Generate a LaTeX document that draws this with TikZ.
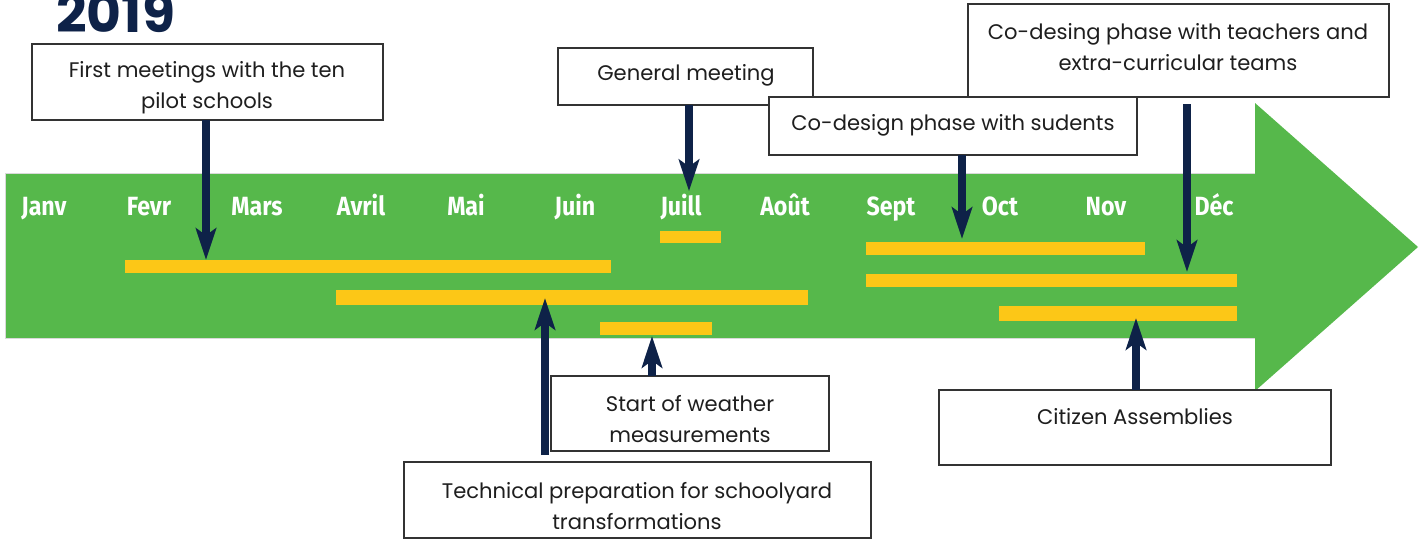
\documentclass[tikz,border=0pt]{standalone}
\usepackage{fontspec}
\setmainfont{Poppins}
\newfontfamily\monthfont[FakeStretch=0.88]{Fira Sans}
\usetikzlibrary{arrows.meta,calc}
\definecolor{bandgreen}{HTML}{56B84B}
\definecolor{baryellow}{HTML}{FCC717}
\definecolor{navy}{HTML}{0E2248}
\definecolor{boxline}{HTML}{333333}
\definecolor{boxtextc}{HTML}{1E1E1E}
\newcommand{\pxl}{0.02cm}
\tikzset{
  evbox/.style={draw=boxline, line width=0.7pt, fill=white, anchor=north west, inner sep=0pt, outer sep=0pt},
  evtext/.style={text=boxtextc, align=center, font=\fontsize{12}{17.4}\selectfont, inner sep=0pt},
  monthlbl/.style={text=white, anchor=base, font=\monthfont\bfseries\fontsize{15}{15}\selectfont, inner sep=0pt},
  ybar/.style={fill=baryellow, anchor=north west, inner sep=0pt, outer sep=0pt},
  evarrow/.style={draw=navy, line width=4.6pt, -{Stealth[length=18pt,width=11.5pt,inset=4pt]}},
}
\begin{document}
\begin{tikzpicture}[x=0.02cm,y=-0.02cm]
\useasboundingbox (0,0) rectangle (1426,541);
\clip (0,0) rectangle (1426,541);

% year
\node[anchor=base west, text=navy, inner sep=0pt, font=\bfseries\fontsize{30.5}{30.5}\selectfont] (year) at (56,32) {2019};

% green timeline arrow
\fill[bandgreen] (5,173) -- (1255,173) -- (1255,103) -- (1418,247) -- (1255,391) -- (1255,338) -- (5,338) -- cycle;
\draw[black!15, line width=0.4pt] (1255,173) -- (5,173) -- (5,338) -- (1255,338);

% months
\foreach \m/\x/\n in {Janv/44/m1, Fevr/149/m2, Mars/257/m3, Avril/361/m4, Mai/466/m5, Juin/575/m6, Juill/681/m7, Août/785/m8, Sept/891/m9, Oct/1000/m10, Nov/1106/m11, Déc/1214/m12}
  \node[monthlbl] (\n) at (\x,215) {\m};

% yellow bars
\node[ybar, minimum width={486*\pxl}, minimum height={13*\pxl}] (y1) at (125,260) {};
\node[ybar, minimum width={472*\pxl}, minimum height={15*\pxl}] (y2) at (336,290) {};
\node[ybar, minimum width={112*\pxl}, minimum height={13*\pxl}] (y3) at (600,322) {};
\node[ybar, minimum width={61*\pxl}, minimum height={12*\pxl}] (y4) at (660,231) {};
\node[ybar, minimum width={279*\pxl}, minimum height={13*\pxl}] (y5) at (866,242) {};
\node[ybar, minimum width={371*\pxl}, minimum height={13*\pxl}] (y6) at (866,274) {};
\node[ybar, minimum width={238*\pxl}, minimum height={15*\pxl}] (y7) at (999,306) {};

% boxes
\node[evbox, minimum width={351*\pxl}, minimum height={76*\pxl}] (b1) at (32,44) {};
\node[evbox, minimum width={255*\pxl}, minimum height={57*\pxl}] (b2) at (558,48) {};
\node[evbox, minimum width={421*\pxl}, minimum height={93*\pxl}] (b4) at (968,4) {};
\node[evbox, minimum width={368*\pxl}, minimum height={58*\pxl}] (b3) at (769,97) {};
\node[evbox, minimum width={278*\pxl}, minimum height={75*\pxl}] (b5) at (551,376) {};
\node[evbox, minimum width={467*\pxl}, minimum height={76*\pxl}] (b6) at (404,462) {};
\node[evbox, minimum width={392*\pxl}, minimum height={75*\pxl}] (b7) at (939,390) {};

% box texts
\node[evtext] (t1) at (207,88) {First meetings with the ten\\pilot schools};
\node[evtext] (t2) at (686,75) {General meeting};
\node[evtext] (t3) at (953,125) {Co-design phase with sudents};
\node[evtext] (t4) at (1178,47) {Co-desing phase with teachers and\\extra-curricular teams};
\node[evtext] (t5) at (690,419) {Start of weather\\measurements};
\node[evtext] (t6) at (637,506) {Technical preparation for schoolyard\\transformations};
\node[evtext] (t7) at (1135,417) {Citizen Assemblies};

% connectors
\coordinate (a1s) at ($(b1.south west)+(174,0)$);
\draw[evarrow] (a1s) -- (a1s |- y1.north);
\coordinate (a2s) at ($(b2.south west)+(131,0)$);
\draw[evarrow] (a2s) -- ($(a2s |- m7.north)+(0,-2)$);
\coordinate (a3s) at ($(b3.south west)+(193,0)$);
\draw[evarrow] (a3s) -- ($(a3s |- y5.north)+(0,-3)$);
\coordinate (a4s) at ($(b4.south west)+(219,7)$);
\draw[evarrow] (a4s) -- ($(a4s |- y6.north)+(0,-2)$);
\coordinate (a5s) at ($(b6.north west)+(141,-7)$);
\draw[evarrow] (a5s) -- ($(a5s |- y2.north)+(0,8)$);
\coordinate (a6s) at ($(b5.north west)+(101,0)$);
\draw[evarrow] (a6s) -- ($(a6s |- y3.south)+(0,1)$);
\coordinate (a7s) at ($(b7.north west)+(197,0)$);
\draw[evarrow] (a7s) -- ($(a7s |- y7.north)+(0,12)$);
\end{tikzpicture}
\end{document}
